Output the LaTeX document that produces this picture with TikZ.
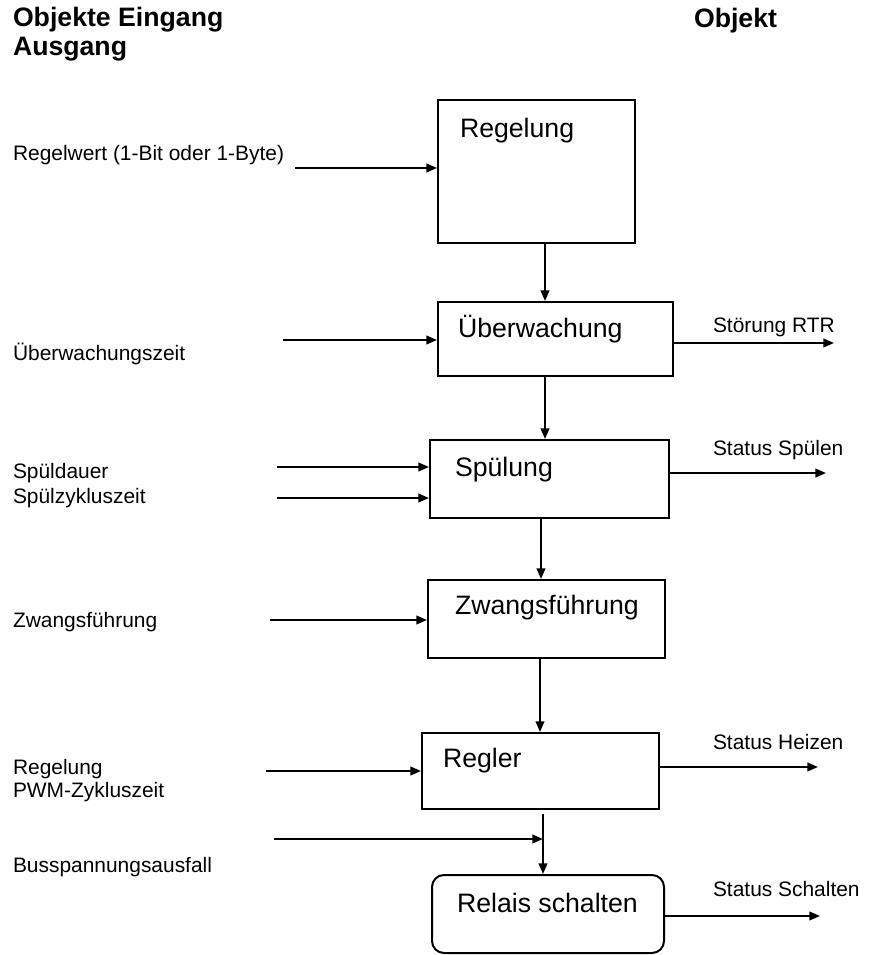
\documentclass[tikz,border=0pt]{standalone}
\usepackage{fontspec}
\setmainfont{Liberation Sans}
\usetikzlibrary{arrows.meta,calc,fit}

\begin{document}
\begin{tikzpicture}[
		x=0.75pt, y=-0.75pt,
		line width=1.5pt,
		>={Triangle[length=8pt,width=6.5pt]},
		block/.style={draw, inner sep=0pt},
		blocktext/.style={anchor=base west, inner sep=0pt, font=\fontsize{20}{24}\selectfont},
		objtext/.style={anchor=base west, inner sep=0pt, font=\fontsize{15.7}{18}\selectfont},
		headtext/.style={anchor=base west, inner sep=0pt, font=\fontsize{20}{24}\selectfont\bfseries}
	]
	\useasboundingbox (0,0) rectangle (878,955);

	% Kopfzeile
	\node[headtext] (kopfein) at (12,27) {Objekte Eingang};
	\node[headtext] (kopfaus) at (12,56) {Ausgang};
	\node[headtext] (kopfobj) at (693,28) {Objekt};

	% Bloecke
	\node[block, fit={(438,100) (635,243)}] (regelung) {};
	\node[block, fit={(438,302) (673,376)}] (ueberw) {};
	\node[block, fit={(430,440) (669,518)}] (spuelung) {};
	\node[block, fit={(428,580) (665,658)}] (zwang) {};
	\node[block, fit={(422,733) (659,809)}] (regler) {};
	\node[block, rounded corners=9pt, fit={(432,875) (664,953)}] (relais) {};

	\node[blocktext] (regelungtxt) at ($(regelung.north west)+(22,39)$) {Regelung};
	\node[blocktext] (ueberwtxt) at ($(ueberw.north west)+(20,36)$) {Überwachung};
	\node[blocktext] (spuelungtxt) at ($(spuelung.north west)+(25,37)$) {Spülung};
	\node[blocktext] (zwangtxt) at ($(zwang.north west)+(27,35)$) {Zwangsführung};
	\node[blocktext] (reglertxt) at ($(regler.north west)+(21,35)$) {Regler};
	\node[blocktext] (relaistxt) at ($(relais.north west)+(25,38)$) {Relais schalten};

	% Verbindungen zwischen den Bloecken
	\draw[->] (545,0 |- regelung.south) -- (545,0 |- ueberw.north);
	\draw[->] (545,0 |- ueberw.south) -- (545,0 |- spuelung.north);
	\draw[->] (541,0 |- spuelung.south) -- (541,0 |- zwang.north);
	\draw[->] (540,0 |- zwang.south) -- (540,0 |- regler.north);
	\coordinate (reglerab) at (543,814);
	\draw[->] (reglerab) -- (reglerab |- relais.north);

	% Eingaenge
	\node[objtext] (regelwert) at (12,161) {Regelwert (1-Bit oder 1-Byte)};
	\node[objtext] (ueberwzeit) at (12,360) {Überwachungszeit};
	\node[objtext] (spueldauer) at (12,478) {Spüldauer};
	\node[objtext] (spuelzyklus) at (12,503) {Spülzykluszeit};
	\node[objtext] (zwangein) at (12,627) {Zwangsführung};
	\node[objtext] (regelungein) at (12,774) {Regelung};
	\node[objtext] (pwmzyklus) at (12,797) {PWM-Zykluszeit};
	\node[objtext] (busausfall) at (12,872) {Busspannungsausfall};

	\coordinate (in1) at (295,168);
	\coordinate (in2) at (283,340);
	\coordinate (in3) at (277,467);
	\coordinate (in4) at (277,498);
	\coordinate (in5) at (270,620);
	\coordinate (in6) at (266,771);
	\coordinate (in7) at (274,839);
	\coordinate (buspunkt) at (543,839);
	\draw[->] (in1) -- (in1 -| regelung.west);
	\draw[->] (in2) -- (in2 -| ueberw.west);
	\draw[->] (in3) -- (in3 -| spuelung.west);
	\draw[->] (in4) -- (in4 -| spuelung.west);
	\draw[->] (in5) -- (in5 -| zwang.west);
	\draw[->] (in6) -- (in6 -| regler.west);
	\draw[->] (in7) -- (buspunkt);

	% Ausgaenge
	\node[objtext] (stoerung) at (712,332) {Störung RTR};
	\node[objtext] (statspuelen) at (712,455) {Status Spülen};
	\node[objtext] (statheizen) at (712,749) {Status Heizen};
	\node[objtext] (statschalten) at (712,896) {Status Schalten};

	\coordinate (out1) at (834,343);
	\coordinate (out2) at (826,473);
	\coordinate (out3) at (818,767);
	\coordinate (out4) at (820,916);
	\draw[->] (out1 -| ueberw.east) -- (out1);
	\draw[->] (out2 -| spuelung.east) -- (out2);
	\draw[->] (out3 -| regler.east) -- (out3);
	\draw[->] (out4 -| relais.east) -- (out4);
\end{tikzpicture}
\end{document}
